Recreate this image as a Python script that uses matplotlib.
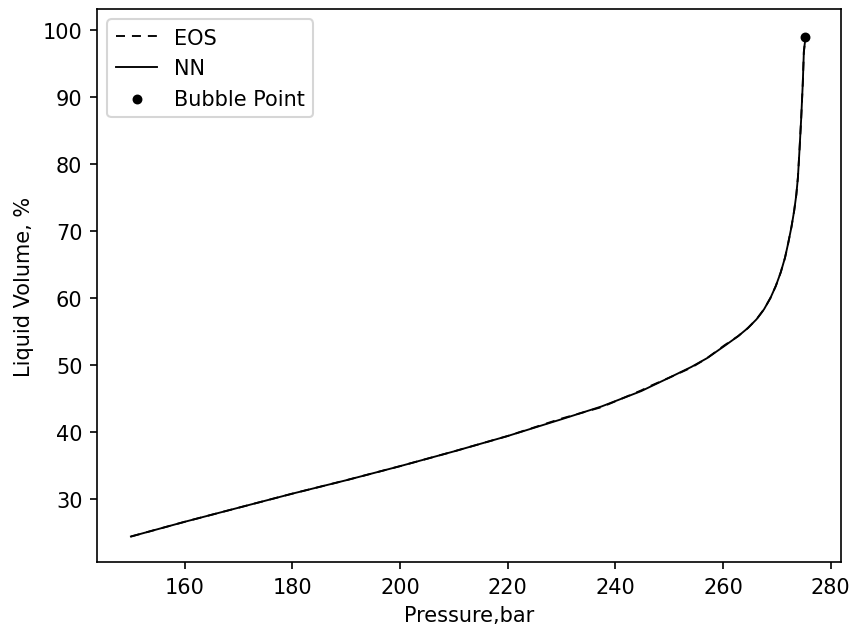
import matplotlib
matplotlib.use("Agg")
import matplotlib.pyplot as plt

# Liquid dropout vs pressure: EOS calculation and neural-network prediction
pressure = [150.0, 160.0, 170.0, 180.0, 190.0, 200.0, 210.0, 220.0, 230.0,
            237.4, 244.8, 246.6, 250.0, 254.1, 257.0, 260.2, 262.8, 264.6,
            266.2, 267.6, 268.8, 269.8, 270.7, 271.5, 272.1, 272.7, 273.2,
            273.6, 273.9, 274.2, 274.5, 274.8, 275.0, 275.3]
eos_volume = [24.4, 26.6, 28.7, 30.8, 32.8, 34.9, 37.1, 39.4, 42.0,
              43.7, 46.2, 46.9, 48.1, 49.6, 51.0, 52.9, 54.3, 55.5,
              56.8, 58.3, 60.0, 61.8, 63.8, 66.0, 68.2, 70.6, 73.0,
              75.4, 78.0, 82.2, 86.7, 92.0, 96.7, 98.9]
nn_volume = [24.4, 26.6, 28.7, 30.8, 32.8, 34.9, 37.1, 39.4, 41.9,
             43.8, 46.1, 46.8, 48.1, 49.7, 51.0, 52.8, 54.3, 55.5,
             56.8, 58.3, 60.0, 61.8, 63.8, 66.0, 68.2, 70.6, 73.0,
             75.4, 78.0, 82.2, 86.7, 92.0, 96.7, 98.9]
bubble_pressure = [275.3]
bubble_volume = [98.9]

dpi = 150
fig = plt.figure(figsize=(852 / dpi, 632 / dpi), dpi=dpi)
ax = fig.add_axes([97 / 852, 1 - 563 / 632, (841 - 97) / 852, (563 - 10) / 632])

ax.plot(pressure, eos_volume, color="black", linestyle="--", dashes=(4.8, 3.7),
        linewidth=0.9, label="EOS")
ax.plot(pressure, nn_volume, color="black", linestyle="-", linewidth=0.9, label="NN")
ax.scatter(bubble_pressure, bubble_volume, color="black", s=14, zorder=3, label="Bubble Point")

ax.set_xlim(143.7, 281.9)
ax.set_ylim(20.6, 103.1)
ax.set_xticks([160, 180, 200, 220, 240, 260, 280])
ax.set_yticks([30, 40, 50, 60, 70, 80, 90, 100])
ax.set_xlabel("Pressure,bar")
ax.set_ylabel("Liquid Volume, %")
ax.legend(loc="upper left")

fig.savefig("out.png", dpi=dpi)
